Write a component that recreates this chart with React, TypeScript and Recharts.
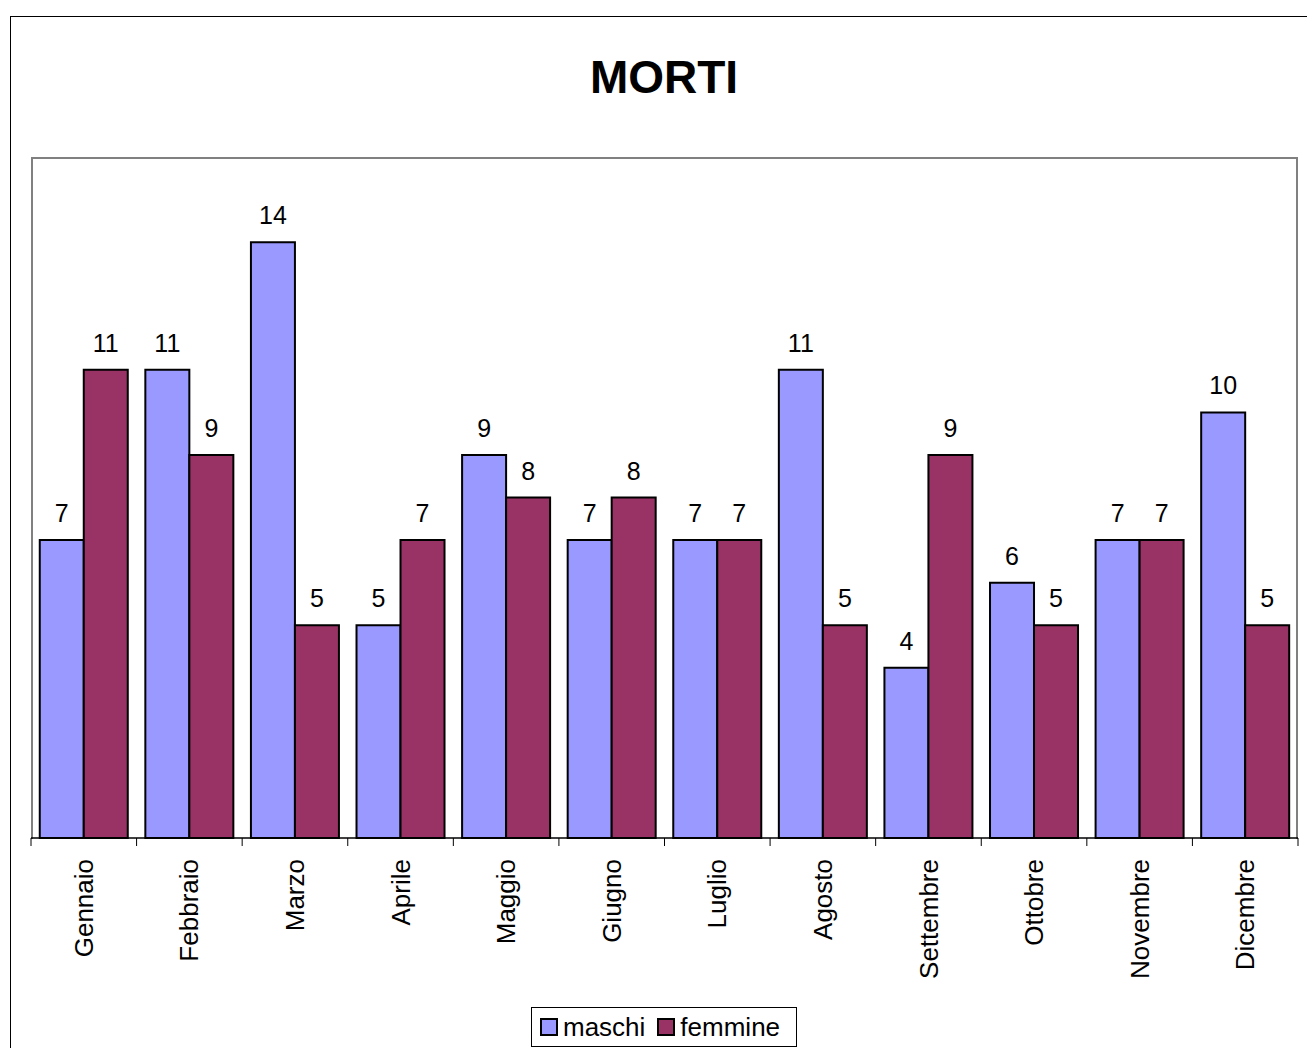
import React from "react";
import { BarChart, Bar, XAxis, YAxis, LabelList } from "recharts";

const categories = ["Gennaio", "Febbraio", "Marzo", "Aprile", "Maggio", "Giugno", "Luglio", "Agosto", "Settembre", "Ottobre", "Novembre", "Dicembre"];
const maschi = [7, 11, 14, 5, 9, 7, 7, 11, 4, 6, 7, 10];
const femmine = [11, 9, 5, 7, 8, 8, 7, 5, 9, 5, 7, 5];
const seriesNames = ["maschi", "femmine"];
const seriesColors = ["#9999FF", "#993366"];

const data = categories.map((c, i) => ({ name: c, maschi: maschi[i], femmine: femmine[i] }));

const FONT = '"Liberation Sans", Arial, sans-serif';

const CategoryTick = (props: any) => {
  const { x, y, payload, index } = props;
  const half = payload && payload.offset ? payload.offset : 0;
  const isLast = index === categories.length - 1;
  return (
    <g>
      <line x1={x - half} x2={x - half} y1={y - 8} y2={y} stroke="#000" strokeWidth={1} />
      {isLast && <line x1={x + half} x2={x + half} y1={y - 8} y2={y} stroke="#000" strokeWidth={1} />}
      <text
        x={x}
        y={y + 13}
        transform={`rotate(-90, ${x}, ${y + 13})`}
        textAnchor="end"
        dy="0.35em"
        fontSize={26}
        fontFamily={FONT}
        fill="#000"
      >
        {payload.value}
      </text>
    </g>
  );
};

const LegendBox = () => (
  <div
    style={{
      position: "absolute",
      left: 531,
      top: 1007,
      border: "1px solid #000",
      width: 264,
      height: 38,
      display: "flex",
      alignItems: "center",
      fontFamily: FONT,
      fontSize: 26,
      color: "#000",
      background: "#fff",
      boxSizing: "content-box",
    }}
  >
    {seriesNames.map((n, i) => (
      <div key={n} style={{ display: "flex", alignItems: "center", marginLeft: i === 0 ? 8 : 12 }}>
        <div style={{ width: 14, height: 14, background: seriesColors[i], border: "2px solid #000", marginRight: 5 }} />
        <span>{n}</span>
      </div>
    ))}
  </div>
);

export default function App() {
  return (
    <div style={{ position: "absolute", left: 0, top: 0, width: 1307, height: 1048, overflow: "hidden", background: "#fff" }}>
      <div style={{ position: "absolute", left: 10, top: 16, width: 1400, height: 1200, border: "1.5px solid #000" }} />
      <div
        style={{
          position: "absolute",
          left: 0,
          top: 54,
          width: 1328,
          textAlign: "center",
          fontFamily: FONT,
          fontWeight: "bold",
          fontSize: 46,
          lineHeight: "46px",
          color: "#000",
        }}
      >
        MORTI
      </div>
      <div style={{ position: "absolute", left: 31, top: 157, width: 1267, height: 682, border: "2px solid #808080", boxSizing: "border-box", borderBottom: "none" }} />
      <div style={{ position: "absolute", left: 0, top: 0 }}>
        <BarChart
          width={1307}
          height={1048}
          data={data}
          margin={{ top: 157, right: 9, bottom: 0, left: 31 }}
          barCategoryGap="8.3%"
          barGap={0}
        >
          <YAxis hide domain={[0, 16]} />
          <XAxis
            dataKey="name"
            axisLine={{ stroke: "#000", strokeWidth: 1.5 }}
            tickLine={false}
            tick={<CategoryTick />}
            interval={0}
            height={210}
          />
          <Bar dataKey="maschi" fill={seriesColors[0]} stroke="#000" strokeWidth={2} isAnimationActive={false}>
            <LabelList dataKey="maschi" position="top" offset={18} fontSize={25} fontFamily={FONT} fill="#000" />
          </Bar>
          <Bar dataKey="femmine" fill={seriesColors[1]} stroke="#000" strokeWidth={2} isAnimationActive={false}>
            <LabelList dataKey="femmine" position="top" offset={18} fontSize={25} fontFamily={FONT} fill="#000" />
          </Bar>
        </BarChart>
      </div>
      <LegendBox />
    </div>
  );
}
